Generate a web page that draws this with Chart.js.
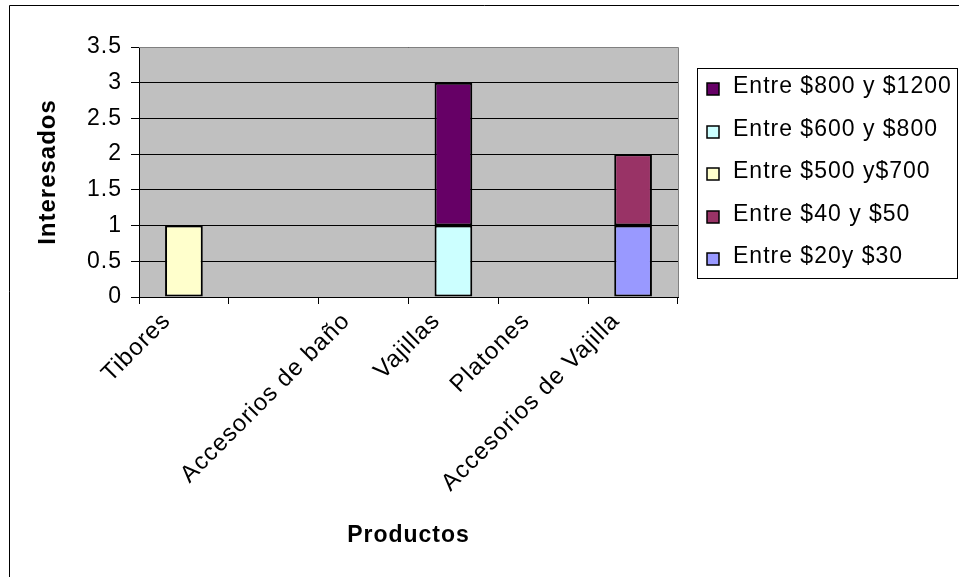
<!DOCTYPE html>
<html lang="es">
<head>
<meta charset="UTF-8">
<title>Interesados por producto</title>
<script src="https://cdn.jsdelivr.net/npm/chart.js@4.4.1/dist/chart.umd.min.js"></script>
<style>
    html, body { margin: 0; padding: 0; background: #fff; }
    #wrap { width: 959px; height: 577px; }
</style>
</head>
<body>
<div id="wrap"><canvas id="productChart" width="959" height="577"></canvas></div>
<script>
// =========================================================================
// DATOS
// =========================================================================

const categories = ['Tibores', '', 'Accesorios de baño', 'Vajillas', 'Platones', 'Accesorios de Vajilla'];

// series in stacking order (bottom first)
const seriesNames = ['Entre $20y $30', 'Entre $40 y $50', 'Entre $500 y$700', 'Entre $600 y $800', 'Entre $800 y $1200'];
const range20to30 = [0, 0, 0, 0, 0, 1];
const range40to50 = [0, 0, 0, 0, 0, 1];
const range500to700 = [1, 0, 0, 0, 0, 0];
const range600to800 = [0, 0, 0, 1, 0, 0];
const range800to1200 = [0, 0, 0, 2, 0, 0];
const seriesColors = ['#9999FF', '#993366', '#FFFFCC', '#CCFFFF', '#660066'];

const yTicks = [0, 0.5, 1, 1.5, 2, 2.5, 3, 3.5];

const FONT = "'Liberation Sans', Arial, sans-serif";
const LETTER_SPACING = '1px'; // el texto del original es algo más ancho que Arial

// =========================================================================
// PLUGINS
// =========================================================================

// espaciado de letras (el canvas lo pierde cada vez que se redimensiona)
const spacingPlugin = {
    id: 'letterSpacing',
    beforeLayout(chart) { chart.ctx.letterSpacing = LETTER_SPACING; },
    beforeDraw(chart) { chart.ctx.letterSpacing = LETTER_SPACING; }
};

// fondo gris del área de trazado + marco exterior
const backgroundPlugin = {
    id: 'plotBackground',
    beforeDraw(chart) {
        const ctx = chart.ctx;
        const a = chart.chartArea;
        ctx.save();
        ctx.fillStyle = '#fff';
        ctx.fillRect(0, 0, chart.width, chart.height);
        ctx.fillStyle = '#C0C0C0';
        ctx.fillRect(a.left, a.top, a.right - a.left, a.bottom - a.top);
        // marco del gráfico (solo se ven los bordes izquierdo y superior)
        ctx.strokeStyle = '#000';
        ctx.lineWidth = 1;
        ctx.beginPath();
        ctx.moveTo(9.5, chart.height);
        ctx.lineTo(9.5, 5.5);
        ctx.lineTo(chart.width, 5.5);
        ctx.stroke();
        ctx.restore();
    },
    afterDatasetsDraw(chart) {
        const ctx = chart.ctx;
        const a = chart.chartArea;
        ctx.save();
        ctx.strokeStyle = '#808080';
        ctx.lineWidth = 1;
        ctx.beginPath();
        ctx.moveTo(a.left, a.top + 0.5);
        ctx.lineTo(a.right + 0.5, a.top + 0.5);
        ctx.lineTo(a.right + 0.5, a.bottom);
        ctx.stroke();
        ctx.restore();
    }
};

// leyenda tipo Excel a la derecha (orden invertido)
const sideLegendPlugin = {
    id: 'sideLegend',
    afterDraw(chart) {
        const ctx = chart.ctx;
        const box = { x: 697.5, y: 68.5, w: 260, h: 210 };
        ctx.save();
        ctx.strokeStyle = '#000';
        ctx.lineWidth = 1;
        ctx.strokeRect(box.x, box.y, box.w, box.h);
        ctx.font = '23px ' + FONT;
        ctx.textBaseline = 'middle';
        ctx.textAlign = 'left';
        const items = chart.data.datasets.slice().reverse();
        items.forEach((ds, i) => {
            const cy = Math.round(87 + i * 42.5);
            ctx.fillStyle = ds.backgroundColor;
            ctx.fillRect(707, cy - 4, 12, 12);
            ctx.strokeStyle = '#000';
            ctx.lineWidth = 1.5;
            ctx.strokeRect(707, cy - 4, 12, 12);
            ctx.fillStyle = '#000';
            ctx.fillText(ds.label, 733, cy);
        });
        ctx.restore();
    }
};

// =========================================================================
// GRÁFICO
// =========================================================================

function buildDatasets() {
    const values = [range20to30, range40to50, range500to700, range600to800, range800to1200];
    return values.map((data, i) => ({
        label: seriesNames[i],
        data: data,
        backgroundColor: seriesColors[i],
        borderColor: '#000',
        borderWidth: 2,
        borderSkipped: false,
        barPercentage: 0.42,
        categoryPercentage: 1
    }));
}

function drawChart() {
    const canvas = document.getElementById('productChart');
    const ctx = canvas.getContext('2d');

    new Chart(ctx, {
        type: 'bar',
        data: {
            labels: categories,
            datasets: buildDatasets()
        },
        options: {
            responsive: false,
            animation: false,
            layout: { padding: { left: 0, top: 47, right: 281, bottom: 0 } },
            plugins: {
                legend: { display: false },
                tooltip: { enabled: false }
            },
            scales: {
                x: {
                    stacked: true,
                    afterFit(scale) { scale.height = 280; },
                    grid: {
                        offset: true,
                        drawOnChartArea: false,
                        drawTicks: true,
                        tickLength: 7,
                        color: '#000'
                    },
                    border: { color: '#000', width: 1 },
                    ticks: {
                        minRotation: 45,
                        maxRotation: 45,
                        autoSkip: false,
                        padding: 3,
                        labelOffset: -17,
                        color: '#000',
                        font: { family: FONT, size: 24 }
                    },
                    title: {
                        display: true,
                        text: 'Productos',
                        color: '#000',
                        font: { family: FONT, size: 23, weight: 'bold' },
                        padding: { top: 0, bottom: 28 }
                    }
                },
                y: {
                    stacked: true,
                    min: 0,
                    max: 3.5,
                    afterFit(scale) { scale.width = 139; },
                    afterBuildTicks(scale) { scale.ticks = yTicks.map(v => ({ value: v })); },
                    grid: {
                        color: '#000',
                        lineWidth: 1,
                        tickLength: 8
                    },
                    border: { color: '#000', width: 1 },
                    ticks: {
                        padding: 9,
                        color: '#000',
                        font: { family: FONT, size: 23 },
                        callback: (value) => String(value)
                    },
                    title: {
                        display: true,
                        text: 'Interesados',
                        color: '#000',
                        font: { family: FONT, size: 24, weight: 'bold' },
                        padding: { top: 34, bottom: 0 }
                    }
                }
            }
        },
        plugins: [spacingPlugin, backgroundPlugin, sideLegendPlugin]
    });
}

document.addEventListener('DOMContentLoaded', () => {
    drawChart();
});
</script>
</body>
</html>
